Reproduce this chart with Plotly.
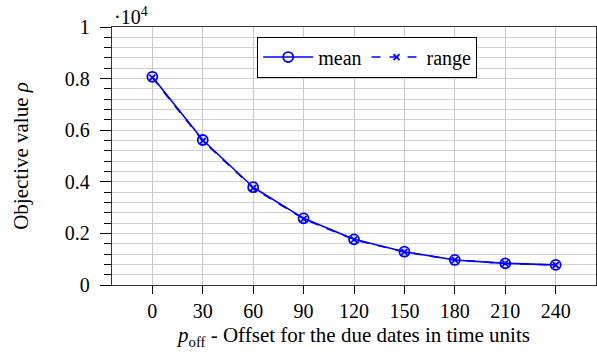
import plotly.graph_objects as go

offsets = [0, 30, 60, 90, 120, 150, 180, 210, 240]
mean_vals = [8070, 5620, 3790, 2585, 1770, 1290, 970, 840, 780]
range_vals = [8040, 5590, 3760, 2560, 1760, 1280, 970, 835, 775]
y_ticks = [0, 0.2, 0.4, 0.6, 0.8, 1.0]
y_ticklabels = ["0", "0.2", "0.4", "0.6", "0.8", "1"]
scale = 1e4

FONT = "Liberation Serif"
BLUE = "#0000ff"
TF = dict(family=FONT, size=20, color="black")
TITLEF = dict(family=FONT, size=21, color="black")

fig = go.Figure()
fig.add_trace(go.Scatter(
    x=offsets, y=[v / scale for v in mean_vals], name="mean",
    mode="lines+markers",
    line=dict(color=BLUE, width=1.6),
    marker=dict(symbol="circle-open", size=10, color=BLUE, line=dict(width=1.8, color=BLUE)),
))
fig.add_trace(go.Scatter(
    x=offsets, y=[v / scale for v in range_vals], name="range",
    mode="lines+markers",
    line=dict(color=BLUE, width=1.6, dash="dash"),
    marker=dict(symbol="x-thin-open", size=6, color=BLUE, line=dict(width=1.8, color=BLUE)),
))

fig.update_layout(
    width=597, height=363,
    margin=dict(l=112, r=1, t=27, b=78),
    paper_bgcolor="white", plot_bgcolor="white",
    font=TF,
    legend=dict(
        x=0.30, y=0.963, xanchor="left", yanchor="top",
        orientation="h", bordercolor="black", borderwidth=1,
        bgcolor="white", font=TF,
        itemwidth=50, tracegroupgap=0,
    ),
    xaxis=dict(
        range=[-24, 264], tickmode="array", tickvals=offsets,
        tickfont=TF,
        ticks="outside", ticklen=8, tickcolor="black", tickwidth=1,
        showgrid=True, gridcolor="#c8c8c8", gridwidth=1,
        showline=True, linecolor="#333333", linewidth=1.3, mirror=True,
        zeroline=False,
        title=dict(text="<i>p</i><sub>off</sub> - Offset for the due dates in time units",
                   font=TITLEF, standoff=6),
    ),
    yaxis=dict(
        range=[0, 1], tickmode="array", tickvals=y_ticks, ticktext=y_ticklabels,
        tickfont=TF, ticklabelstandoff=6,
        ticks="outside", ticklen=11, tickcolor="black", tickwidth=1,
        showgrid=True, gridcolor="#d0d0d0", gridwidth=1,
        minor=dict(dtick=0.04, tick0=0, ticks="outside", ticklen=7, tickcolor="black",
                   showgrid=True, gridcolor="#d0d0d0", gridwidth=1),
        showline=True, linecolor="#333333", linewidth=1.3, mirror=True,
        zeroline=False,
        title=dict(text="Objective value <i>ρ</i>", font=TITLEF, standoff=30),
    ),
    annotations=[dict(
        text="·10<sup>4</sup>", xref="paper", yref="paper", x=0.0, y=1.0,
        xanchor="left", yanchor="bottom", showarrow=False,
        font=TF, yshift=-3,
    )],
)

fig.write_html("out.html", config={"displayModeBar": False},
               post_script="document.body.style.margin='0px';document.body.style.overflow='hidden';")
